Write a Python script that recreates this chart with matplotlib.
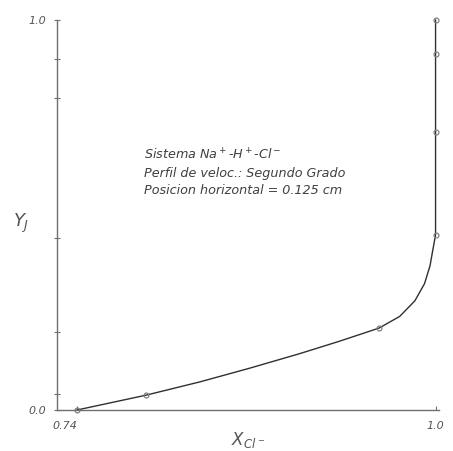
import matplotlib.pyplot as plt

# measured points (open circles)
x_pts = [0.74, 0.79, 0.959, 1.0, 1.0, 1.0, 1.0]
y_pts = [0.0, 0.038, 0.21, 0.449, 0.713, 0.913, 1.0]

# curve
x_curve = [0.74, 0.79, 0.829, 0.865, 0.901, 0.930, 0.959, 0.974, 0.985,
           0.992, 0.996, 0.998, 1.0, 1.0]
y_curve = [0.0, 0.038, 0.072, 0.107, 0.144, 0.176, 0.21, 0.24, 0.28,
           0.324, 0.37, 0.41, 0.449, 1.0]

y_ticks = [0.0, 0.04, 0.2, 0.44, 0.8, 0.9, 1.0]
y_ticklabels = ['0.0', '', '', '', '', '', '1.0']
x_ticks = [0.74, 1.0]
x_ticklabels = ['0.74', '1.0']

hand = ['Liberation Sans Narrow', 'DejaVu Sans']

fig = plt.figure(figsize=(4.53, 4.51), dpi=100)
ax = fig.add_axes([0.1258, 0.0909, 0.8433, 0.8647])

gray = '#707070'
ax.plot(x_curve, y_curve, color='#303030', lw=1.0, clip_on=False)
ax.plot(x_pts, y_pts, 'o', ms=3.5, mfc='none', mec='#808080', mew=0.9, clip_on=False)

ax.set_xlim(0.7255, 1.0025)
ax.set_ylim(0, 1.0)
for s in ['top', 'right']:
    ax.spines[s].set_visible(False)
for s in ['left', 'bottom']:
    ax.spines[s].set_color(gray)
    ax.spines[s].set_linewidth(1.0)

ax.set_yticks(y_ticks, y_ticklabels)
ax.set_xticks(x_ticks, x_ticklabels)
ax.tick_params(axis='y', direction='inout', length=4, color=gray, labelcolor='#555555',
               labelsize=8, pad=6)
ax.tick_params(axis='x', direction='in', length=3, color=gray, labelcolor='#555555',
               labelsize=8, pad=8)
for lab in ax.get_xticklabels() + ax.get_yticklabels():
    lab.set_family(hand)
    lab.set_style('italic')
ax.get_xticklabels()[0].set_horizontalalignment('right')

ax.set_xlabel(r'$X_{Cl^-}$', fontsize=12, color='#555555')
ax.xaxis.set_label_coords(0.5, -0.05)
ax.set_ylabel(r'$Y_J$', fontsize=13, color='#555555', rotation=0)
ax.yaxis.set_label_coords(-0.095, 0.45)

txt = ('Sistema Na$^+$-H$^+$-Cl$^-$\n'
       'Perfil de veloc.: Segundo Grado\n'
       'Posicion horizontal = 0.125 cm')
ax.text(0.228, 0.61, txt, transform=ax.transAxes, fontsize=9.2, family=hand,
        style='italic', color='#404040', linespacing=1.4, va='center', ha='left')

fig.savefig('out.png', dpi=100)
